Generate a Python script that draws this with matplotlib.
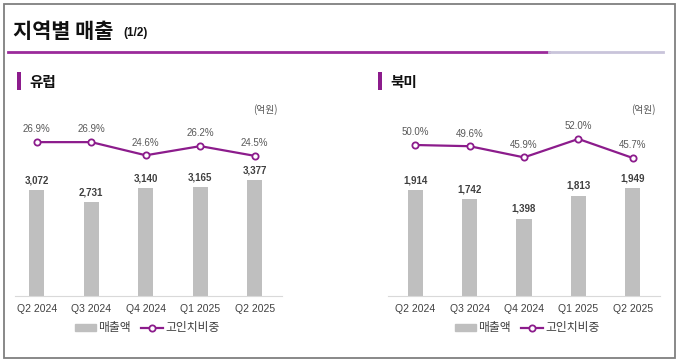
import matplotlib
matplotlib.use("Agg")
import matplotlib.pyplot as plt
from matplotlib.patches import Rectangle
from matplotlib.lines import Line2D

plt.rcParams["font.family"] = ["Liberation Sans", "Noto Sans CJK KR", "DejaVu Sans"]

quarters = ["Q2 2024", "Q3 2024", "Q4 2024", "Q1 2025", "Q2 2025"]
eu_sales = [3072, 2731, 3140, 3165, 3377]
eu_share = [26.9, 26.9, 24.6, 26.2, 24.5]
na_sales = [1914, 1742, 1398, 1813, 1949]
na_share = [50.0, 49.6, 45.9, 52.0, 45.7]

PURPLE = "#8c1c8c"
BAR = "#bfbfbf"
W, H = 680, 361
KR = ["Noto Sans CJK KR", "DejaVu Sans"]

fig = plt.figure(figsize=(6.8, 3.61), dpi=100)


def px_rect(x0, y0, x1, y1):
    # pixel box (top-left origin) -> figure fraction
    return [x0 / W, 1 - y1 / H, (x1 - x0) / W, (y1 - y0) / H]


# frame
bg = fig.add_axes([0, 0, 1, 1])
bg.set_xlim(0, W)
bg.set_ylim(H, 0)
bg.axis("off")
bg.add_patch(Rectangle((3.5, 3.5), 671, 354, fill=False, ec="#7f7f7f", lw=1.3))
bg.plot([8, 549], [51.5, 51.5], color="#9b2a9b", lw=2)
bg.plot([549, 663], [51.5, 51.5], color="#c9c4da", lw=2)
bg.text(13, 31, "지역별 매출", fontsize=15, fontweight="bold", va="center",
        color="#111111", family=KR)
bg.text(123, 33, "(1/2)", fontsize=8.5, fontweight="bold", va="center", color="#111111")
for bx, name in [(17, "유럽"), (378, "북미")]:
    bg.add_patch(Rectangle((bx, 72), 4, 18, color=PURPLE, lw=0))
    bg.text(bx + 12, 81.5, name, fontsize=10.5, fontweight="bold", va="center",
            color="#111111", family=KR)


def panel(x0, x1, xlim, sales, share, bar_top, line_top, unit_x, leg_x):
    ax = fig.add_axes(px_rect(x0, 100, x1, 296))
    ax.patch.set_visible(False)
    x = range(len(quarters))
    ax.bar(x, sales, width=0.28, color=BAR)
    ax.set_xlim(*xlim)
    ax.set_ylim(0, bar_top)
    for i, v in enumerate(sales):
        ax.text(i, v + bar_top * 0.025, f"{v:,}", ha="center", va="bottom",
                fontsize=7, fontweight="bold", color="#404040")
    for s in ["top", "left", "right"]:
        ax.spines[s].set_visible(False)
    ax.spines["bottom"].set_color("#d9d9d9")
    ax.set_yticks([])
    ax.set_xticks(list(x))
    ax.set_xticklabels(quarters, fontsize=7.5, color="#404040")
    ax.tick_params(axis="x", length=0, pad=5.5)

    ax2 = ax.twinx()
    ax2.plot(x, share, color=PURPLE, lw=1.6, marker="o", ms=4.5,
             mfc="white", mec=PURPLE, mew=1.3)
    ax2.set_ylim(0, line_top)
    ax2.axis("off")
    for i, v in enumerate(share):
        ax2.annotate(f"{v:.1f}%", (i, v), xytext=(0, 5.5), textcoords="offset points",
                     ha="center", va="bottom", fontsize=7, color="#595959")
    fig.text(unit_x / W, 1 - 110 / H, "(억원)", fontsize=7, color="#595959",
             ha="right", va="center", family=KR)

    handles = [Rectangle((0, 0), 1, 1, color=BAR),
               Line2D([], [], color=PURPLE, lw=1.6, marker="o", ms=4.5,
                      mfc="white", mec=PURPLE, mew=1.3)]
    leg = fig.legend(handles, ["매출액", "고인치비중"], loc="center",
                     bbox_to_anchor=(leg_x / W, 1 - 328 / H),
                     ncol=2, frameon=False, handlelength=1.8, handleheight=0.5,
                     handletextpad=0.2, columnspacing=0.9, labelcolor="#404040",
                     prop={"family": KR, "size": 8.5})
    return leg


panel(15, 282, (-0.4, 4.5), eu_sales, eu_share, 196 / 0.03435, 196 / 5.72, 278, 147)
panel(388, 660, (-0.5, 4.5), na_sales, na_share, 196 / 0.0554, 196 / 3.02, 656, 527)

fig.savefig("out.png", dpi=100)
